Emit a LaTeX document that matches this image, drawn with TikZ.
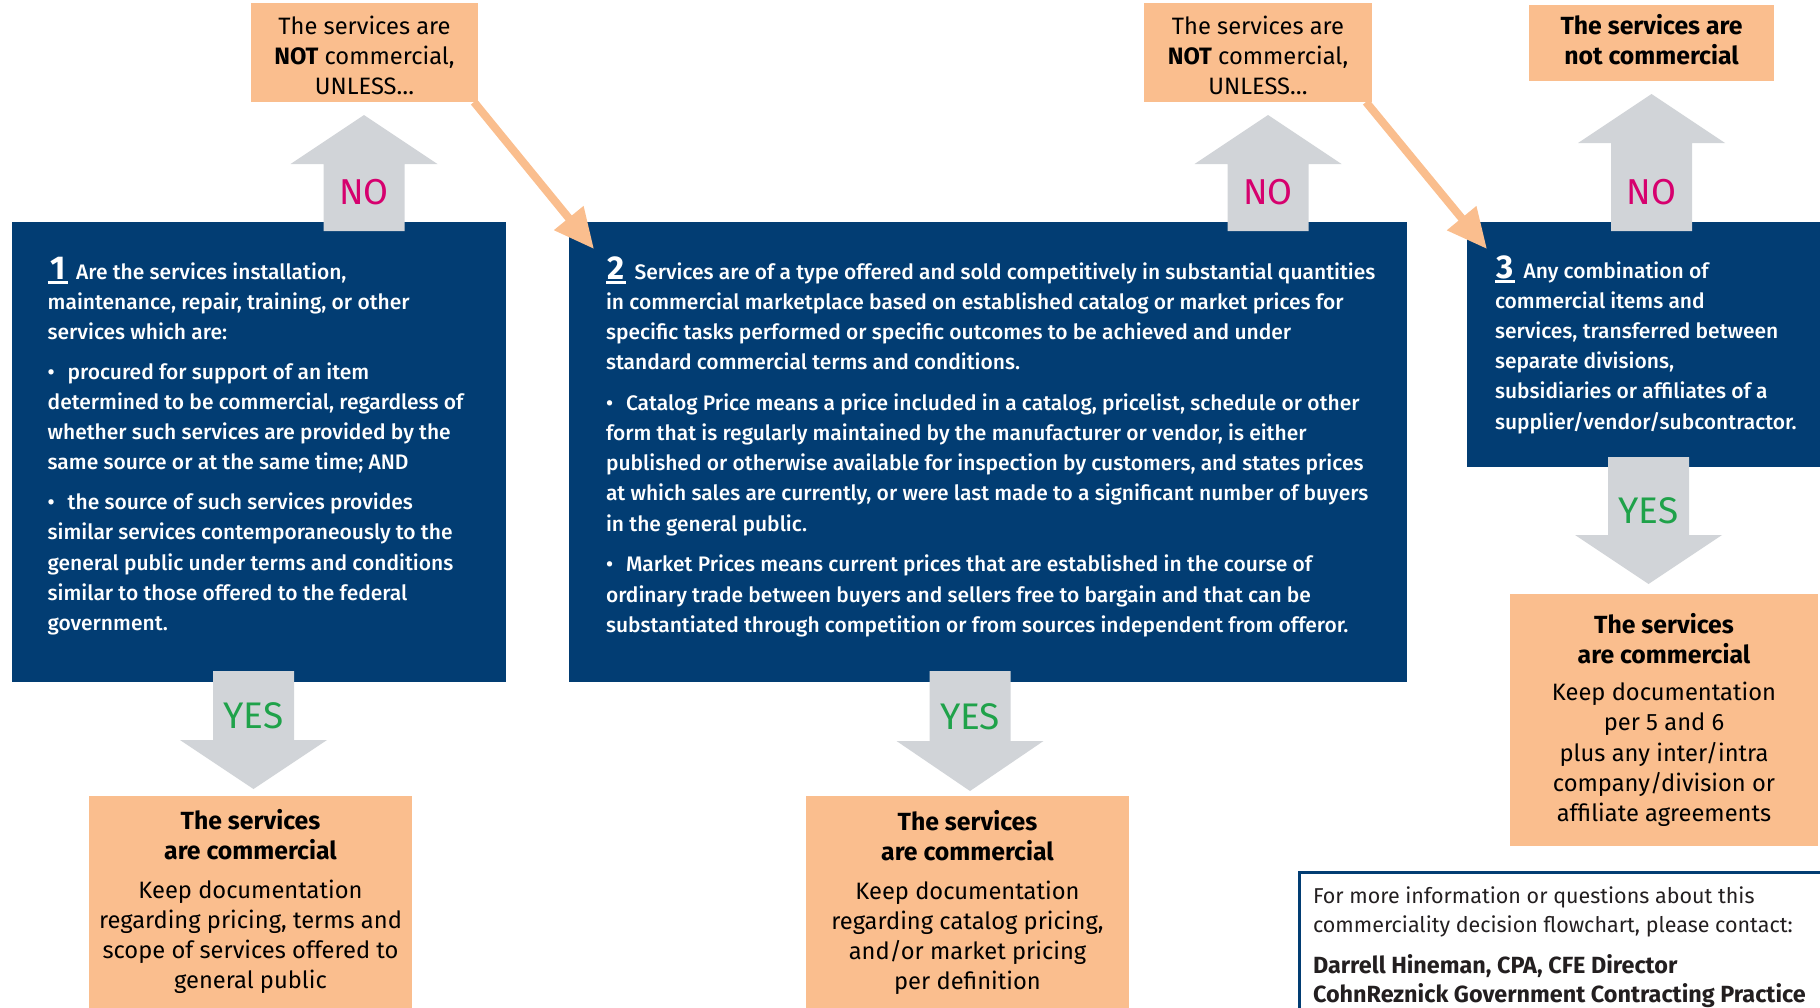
\documentclass[tikz,border=0pt]{standalone}
\usepackage{fontspec}
\setmainfont{Fira Sans}
\IfFontExistsTF{Fira Sans Medium}{\newfontfamily\medfont{Fira Sans Medium}}{\newfontfamily\medfont{Fira Sans}}
\usetikzlibrary{arrows.meta,calc}
\definecolor{boxblue}{HTML}{023D73}
\definecolor{boxorange}{HTML}{FABE8E}
\definecolor{arrgray}{HTML}{D1D4D8}
\definecolor{nocol}{HTML}{D6006E}
\definecolor{yescol}{HTML}{1FA24A}
\definecolor{txtdark}{HTML}{231F20}
\newcommand{\fl}{\rule{0pt}{28pt}}
\newcommand{\garrow}[4]{\fill[arrgray] ({#1-40.5},#2) -- ({#1-40.5},#3) -- ({#1-73.5},#3) -- (#1,#4) -- ({#1+73.5},#3) -- ({#1+40.5},#3) -- ({#1+40.5},#2) -- cycle;}
\newcommand{\stepnum}[1]{\makebox[20pt][c]{\normalfont\bfseries\fontsize{33}{30}\selectfont #1}\llap{\rule[-4.5pt]{20pt}{2.2pt}}\hspace{8.5pt}}
\newcommand{\bul}{\makebox[20pt][l]{•}}
\newcommand{\nb}[1]{{\normalfont\bfseries #1}}
\newcommand{\bigbf}[1]{{\normalfont\fontsize{24.8}{30}\selectfont\bfseries #1}}
\begin{document}
\begin{tikzpicture}[x=1pt,y=-1pt,
  bluebox/.style={fill=boxblue, draw=none, inner sep=0pt, outer sep=0pt, anchor=north west},
  orangebox/.style={fill=boxorange, draw=none, inner sep=0pt, outer sep=0pt, anchor=north west},
  bodytext/.style={inner sep=0pt, outer sep=0pt, font=\medfont\fontsize{21}{30.2}\selectfont},
  whitetext/.style={bodytext, text=white, align=left, anchor=north west},
  centertext/.style={inner sep=0pt, outer sep=0pt, font=\fontsize{23.7}{30.2}\selectfont, text=black, align=center, anchor=north},
  notext/.style={text=nocol, font=\fontsize{36}{36}\selectfont, inner sep=0pt},
  yestext/.style={text=yescol, font=\fontsize{37}{37}\selectfont, inner sep=0pt},
  oarrow/.style={draw=boxorange, line width=8pt, -{Triangle[length=40pt,width=36pt]}}
]
\useasboundingbox (0,0) rectangle (1820,1007);
\clip (0,0) rectangle (1820,1007);

% decision boxes
\node[bluebox, minimum width=494.4pt, minimum height=460pt] (b1) at (11.6,222) {};
\node[bluebox, minimum width=838pt, minimum height=460pt] (b2) at (569,222) {};
\node[bluebox, minimum width=356pt, minimum height=245pt] (b3) at (1467,222) {};

% outcome boxes
\node[orangebox, minimum width=227pt, minimum height=99pt] (o1) at (251,3) {};
\node[orangebox, minimum width=228pt, minimum height=99pt] (o2) at (1144,3) {};
\node[orangebox, minimum width=245pt, minimum height=76pt] (o3) at (1529,5) {};
\node[orangebox, minimum width=323pt, minimum height=220pt] (r1) at (89,796) {};
\node[orangebox, minimum width=323pt, minimum height=220pt] (r2) at (806,796) {};
\node[orangebox, minimum width=308pt, minimum height=252pt] (r3) at (1510,594) {};

% contact box
\node[draw=boxblue, line width=3pt, fill=white, inner sep=0pt, outer sep=0pt, anchor=north west, minimum width=530pt, minimum height=150pt] (cb) at (1299.5,872.5) {};

% gray block arrows
\garrow{364}{231}{164}{115}
\garrow{1268}{231}{164}{115}
\garrow{1651.5}{231}{143}{94}
\garrow{253.5}{671}{740}{789}
\garrow{970}{671}{741}{791}
\garrow{1648.5}{457}{535}{584}

% orange diagonal arrows
\coordinate (t1) at ($(b2.north west)+(25,27)$);
\coordinate (t2) at ($(b3.north west)+(20,27)$);
\draw[oarrow] ($(o1.south east)+(-4,0)$) -- (t1);
\draw[oarrow] ($(o2.south east)+(-6,0)$) -- (t2);

% arrow labels
\node[notext] (no1) at (364,192) {NO};
\node[notext] (no2) at (1268,192) {NO};
\node[notext] (no3) at (1651.5,192) {NO};
\node[yestext] (yes1) at (253.5,716) {YES};
\node[yestext] (yes2) at (970,717) {YES};
\node[yestext] (yes3) at (1648.5,511) {YES};

% decision texts
\node[whitetext] (bt1) at (47.7,251) {\fl\stepnum{1}Are the services installation,\\
maintenance, repair, training, or other\\
services which are:\\[9.6pt]
\bul procured for support of an item\\
determined to be commercial, regardless of\\
whether such services are provided by the\\
same source or at the same time; AND\\[9.6pt]
\bul the source of such services provides\\
similar services contemporaneously to the\\
general public under terms and conditions\\
similar to those offered to the federal\\
government.};

\node[whitetext] (bt2) at (606,251) {\fl\stepnum{2}Services are of a type offered and sold competitively in substantial quantities\\
in commercial marketplace based on established catalog or market prices for\\
specific tasks performed or specific outcomes to be achieved and under\\
standard commercial terms and conditions.\\[10.5pt]
\bul Catalog Price means a price included in a catalog, pricelist, schedule or other\\
form that is regularly maintained by the manufacturer or vendor, is either\\
published or otherwise available for inspection by customers, and states prices\\
at which sales are currently, or were last made to a significant number of buyers\\
in the general public.\\[10.5pt]
\bul Market Prices means current prices that are established in the course of\\
ordinary trade between buyers and sellers free to bargain and that can be\\
substantiated through competition or from sources independent from offeror.};

\node[whitetext] (bt3) at (1495,250) {\fl\stepnum{3}Any combination of\\
commercial items and\\
services, transferred between\\
separate divisions,\\
subsidiaries or affiliates of a\\
supplier/vendor/subcontractor.};

% outcome texts
\node[centertext] (ot1) at (364.5,6) {\fl The services are\\\nb{NOT} commercial,\\UNLESS…};
\node[centertext] (ot2) at (1258,6) {\fl The services are\\\nb{NOT} commercial,\\UNLESS…};
\node[centertext] (ot3) at (1651.5,6) {\fl\bigbf{The services are}\\\bigbf{not commercial}};

\node[centertext] (rt1) at (250.5,801) {\fl\bigbf{The services}\\\bigbf{are commercial}\\[8.8pt]
Keep documentation\\regarding pricing, terms and\\scope of services offered to\\general public};
\node[centertext] (rt2) at (967.5,802) {\fl\bigbf{The services}\\\bigbf{are commercial}\\[8.8pt]
Keep documentation\\regarding catalog pricing,\\and/or market pricing\\per definition};
\node[centertext] (rt3) at (1664,605) {\fl\bigbf{The services}\\\bigbf{are commercial}\\[7.3pt]
Keep documentation\\per 5 and 6\\plus any inter/intra\\company/division or\\affiliate agreements};

% contact text
\node[inner sep=0pt, outer sep=0pt, text=txtdark, align=left, anchor=north west, font=\fontsize{21.5}{29}\selectfont] (ct) at (1313,875) {\fl For more information or questions about this\\
commerciality decision flowchart, please contact:\\[12pt]
{\fontsize{23.4}{29}\selectfont\bfseries Darrell Hineman, CPA, CFE Director}\\
{\fontsize{23.4}{29}\selectfont\bfseries CohnReznick Government Contracting Practice}};
\end{tikzpicture}
\end{document}
